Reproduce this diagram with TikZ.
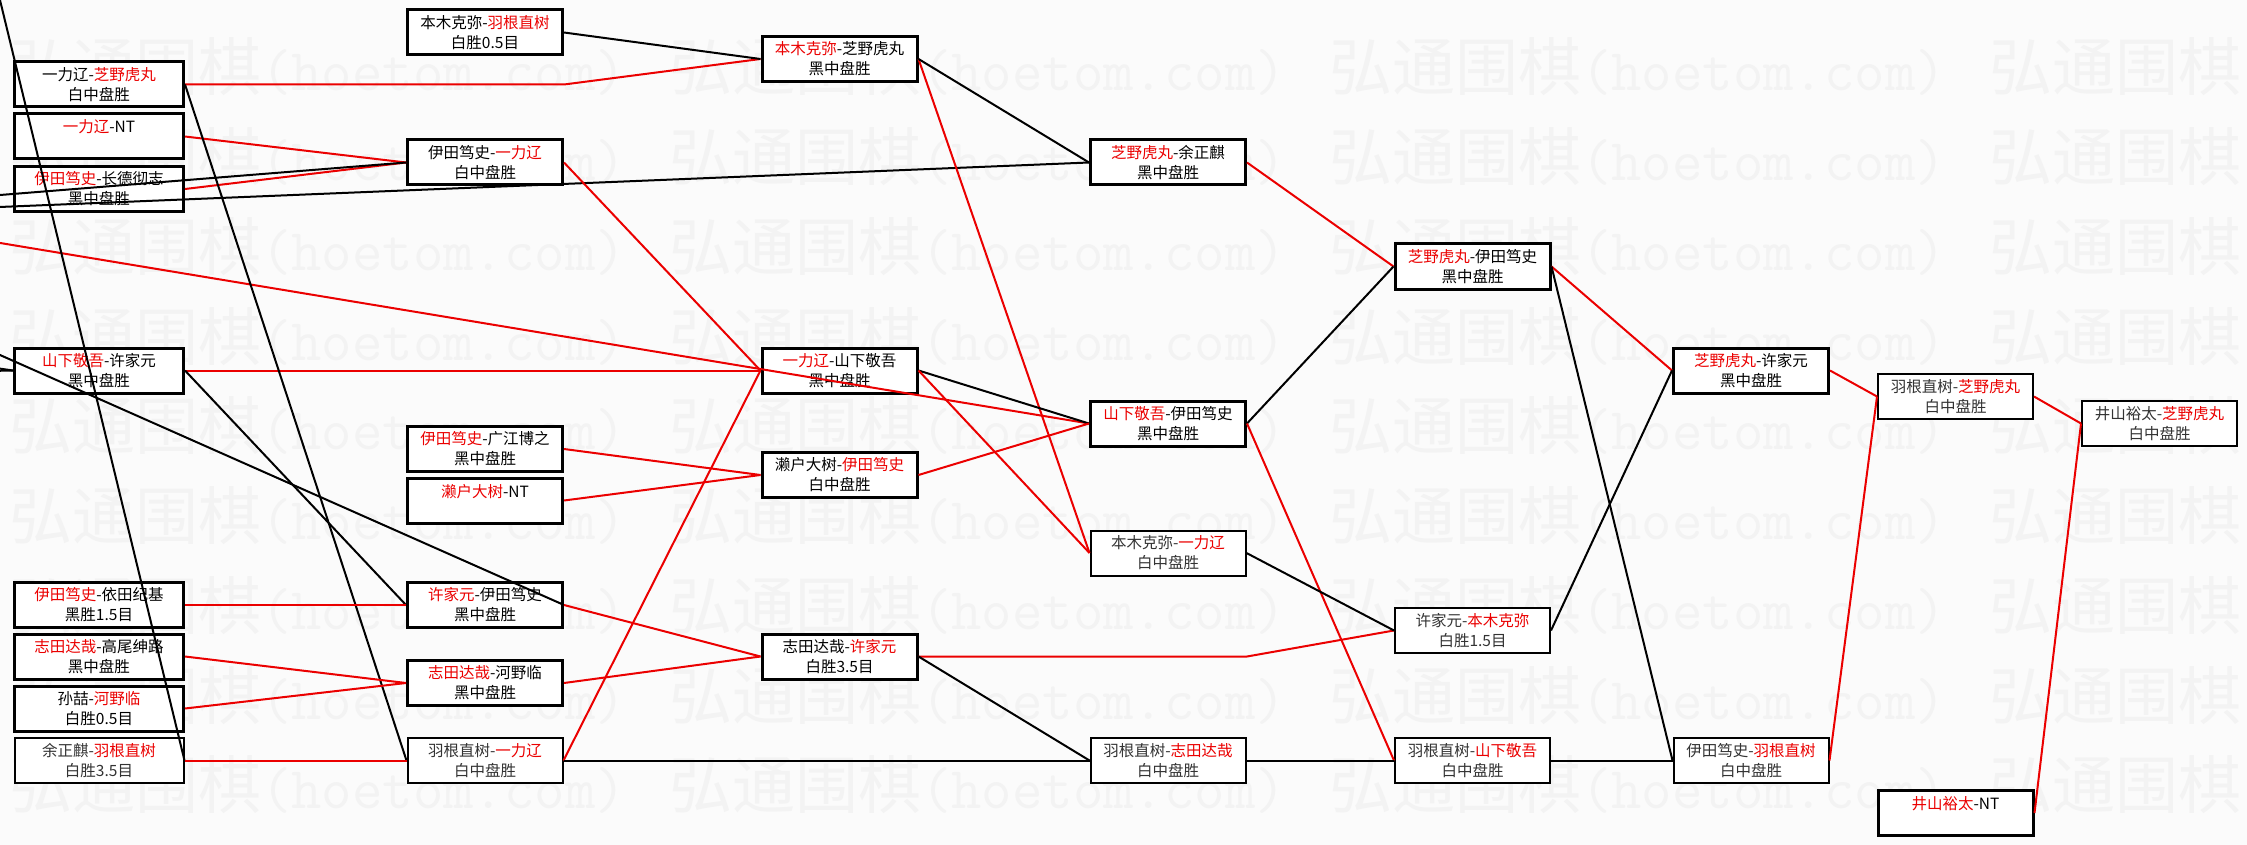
\documentclass[tikz,border=0pt]{standalone}
\usepackage{fontspec}
\setmainfont{Noto Sans CJK SC}
\definecolor{rd}{RGB}{235,0,0}
\definecolor{wm}{RGB}{243,243,243}
\definecolor{bgc}{RGB}{251,251,251}
\newcommand{\rn}[1]{\textcolor{rd}{#1}}
\tikzset{
  box/.style={draw=black, fill=white, line width=3pt, minimum width=155pt, minimum height=45pt,
              inner sep=0pt, align=center, font=\fontsize{15.5}{20}\selectfont},
  boxA/.style={box, minimum width=169pt},
  thinbox/.style={line width=2pt, text=black!80},
  rl/.style={draw=rd, line width=2pt},
  bl/.style={draw=black, line width=2pt},
  wmtext/.style={text=wm, inner sep=0pt, anchor=west, font=\fontsize{63}{63}\selectfont}
}
\begin{document}
\begin{tikzpicture}[x=1pt,y=-1pt]
\fill[bgc] (0,0) rectangle (2247,845);
\useasboundingbox (0,0) rectangle (2247,845);
\clip (0,0) rectangle (2247,845);
% watermark
\foreach \r in {0,...,8}{
  \foreach \c in {0,...,3}{
    \node[wmtext] (wm-\r-\c) at ({9+660*\c},{67+89.75*\r}) {弘通围棋{\ttfamily\fontsize{59}{59}\selectfont (hoetom.com)}};
  }
}
% column A
\node[boxA] (A1) at (99,84.5) {一力辽-\rn{芝野虎丸}\\白中盘胜};
\node[boxA] (A2) at (99,136.5) {\rn{一力辽}-NT\\~};
\node[boxA] (A3) at (99,189) {\rn{伊田笃史}-长德彻志\\黑中盘胜};
\node[boxA] (A4) at (99,370.5) {\rn{山下敬吾}-许家元\\黑中盘胜};
\node[boxA] (A5) at (99,605) {\rn{伊田笃史}-依田纪基\\黑胜1.5目};
\node[boxA] (A6) at (99,656.5) {\rn{志田达哉}-高尾绅路\\黑中盘胜};
\node[boxA] (A7) at (99,708.5) {孙喆-\rn{河野临}\\白胜0.5目};
\node[boxA,thinbox] (A8) at (99,760.5) {余正麒-\rn{羽根直树}\\白胜3.5目};
% column B
\node[box] (B1) at (485,32.5) {本木克弥-\rn{羽根直树}\\白胜0.5目};
\node[box] (B2) at (485,162.5) {伊田笃史-\rn{一力辽}\\白中盘胜};
\node[box] (B3) at (485,449) {\rn{伊田笃史}-广江博之\\黑中盘胜};
\node[box] (B4) at (485,500.5) {\rn{濑户大树}-NT\\~};
\node[box] (B5) at (485,605) {\rn{许家元}-伊田笃史\\黑中盘胜};
\node[box] (B6) at (485,683) {\rn{志田达哉}-河野临\\黑中盘胜};
\node[box,thinbox] (B7) at (485,760.5) {羽根直树-\rn{一力辽}\\白中盘胜};
% column C
\node[box] (C1) at (839.5,59) {\rn{本木克弥}-芝野虎丸\\黑中盘胜};
\node[box] (C2) at (839.5,370.5) {\rn{一力辽}-山下敬吾\\黑中盘胜};
\node[box] (C3) at (839.5,475) {濑户大树-\rn{伊田笃史}\\白中盘胜};
\node[box] (C4) at (839.5,656.5) {志田达哉-\rn{许家元}\\白胜3.5目};
% column D
\node[box] (D1) at (1168,162.5) {\rn{芝野虎丸}-余正麒\\黑中盘胜};
\node[box] (D2) at (1168,423.5) {\rn{山下敬吾}-伊田笃史\\黑中盘胜};
\node[box,thinbox] (D3) at (1168,553) {本木克弥-\rn{一力辽}\\白中盘胜};
\node[box,thinbox] (D4) at (1168,760.5) {羽根直树-\rn{志田达哉}\\白中盘胜};
% column E
\node[box] (E1) at (1472.5,266.5) {\rn{芝野虎丸}-伊田笃史\\黑中盘胜};
\node[box,thinbox] (E2) at (1472.5,630.5) {许家元-\rn{本木克弥}\\白胜1.5目};
\node[box,thinbox] (E3) at (1472.5,760.5) {羽根直树-\rn{山下敬吾}\\白中盘胜};
% column F
\node[box] (F1) at (1751,370.5) {\rn{芝野虎丸}-许家元\\黑中盘胜};
\node[box,thinbox] (F2) at (1751,760.5) {伊田笃史-\rn{羽根直树}\\白中盘胜};
% column G, H
\node[box,thinbox] (G1) at (1955.5,396.5) {羽根直树-\rn{芝野虎丸}\\白中盘胜};
\node[box] (G2) at (1955.5,813) {\rn{井山裕太}-NT\\~};
\node[box,thinbox] (H1) at (2159.5,423.5) {井山裕太-\rn{芝野虎丸}\\白中盘胜};
% off-picture ends
\coordinate (oa) at (-30,197.4);
\coordinate (ob) at (-30,208.2);
\coordinate (oc) at (-30,238);
\coordinate (od) at (-30,341.7);
\coordinate (oe) at (-7.3,-30);
\coordinate (of) at (-60,360);
\coordinate (og) at (-60,372);
% connectors
\draw[rl] (A1.east) -- (A1.east -| B1.east) -- (C1.west);
\draw[bl] (B1.east) -- (C1.west);
\draw[rl] (A2.east) -- (B2.west);
\draw[rl] (A3.east) -- (B2.west);
\draw[bl] (oa) -- (B2.west);
\draw[bl] (ob) -- (D1.west);
\draw[rl] (oc) -- (D2.west);
\draw[bl] (of) -- (A4.west);
\draw[bl] (og) -- (A4.west);
\draw[rl] (B2.east) -- (C2.west);
\draw[rl] (A4.east) -- (C2.west);
\draw[bl] (A4.east) -- (B5.west);
\draw[bl] (od) -- (B5.east);
\draw[bl] (A8.east) -- (oe);
\draw[bl] (A1.east) -- (B7.west);
\draw[rl] (A5.east) -- (B5.west);
\draw[rl] (A6.east) -- (B6.west);
\draw[rl] (A7.east) -- (B6.west);
\draw[rl] (A8.east) -- (B7.west);
\draw[rl] (B3.east) -- (C3.west);
\draw[rl] (B4.east) -- (C3.west);
\draw[rl] (B5.east) -- (C4.west);
\draw[rl] (B6.east) -- (C4.west);
\draw[rl] (B7.east) -- (C2.west);
\draw[bl] (B7.east) -- (D4.west);
\draw[rl] (C1.east) -- (D3.west);
\draw[bl] (C1.east) -- (D1.west);
\draw[bl] (C2.east) -- (D2.west);
\draw[rl] (C2.east) -- (D3.west);
\draw[rl] (C3.east) -- (D2.west);
\draw[rl] (C4.east) -- (C4.east -| D1.east) -- (E2.west);
\draw[bl] (C4.east) -- (D4.west);
\draw[rl] (D1.east) -- (E1.west);
\draw[bl] (D2.east) -- (E1.west);
\draw[rl] (D2.east) -- (E3.west);
\draw[bl] (D3.east) -- (E2.west);
\draw[bl] (D4.east) -- (E3.west);
\draw[rl] (E1.east) -- (F1.west);
\draw[bl] (E1.east) -- (F2.west);
\draw[bl] (E2.east) -- (F1.west);
\draw[bl] (E3.east) -- (F2.west);
\draw[rl] (F1.east) -- (G1.west);
\draw[rl] (F2.east) -- (G1.west);
\draw[rl] (G1.east) -- (H1.west);
\draw[rl] (G2.east) -- (H1.west);
\end{tikzpicture}
\end{document}
